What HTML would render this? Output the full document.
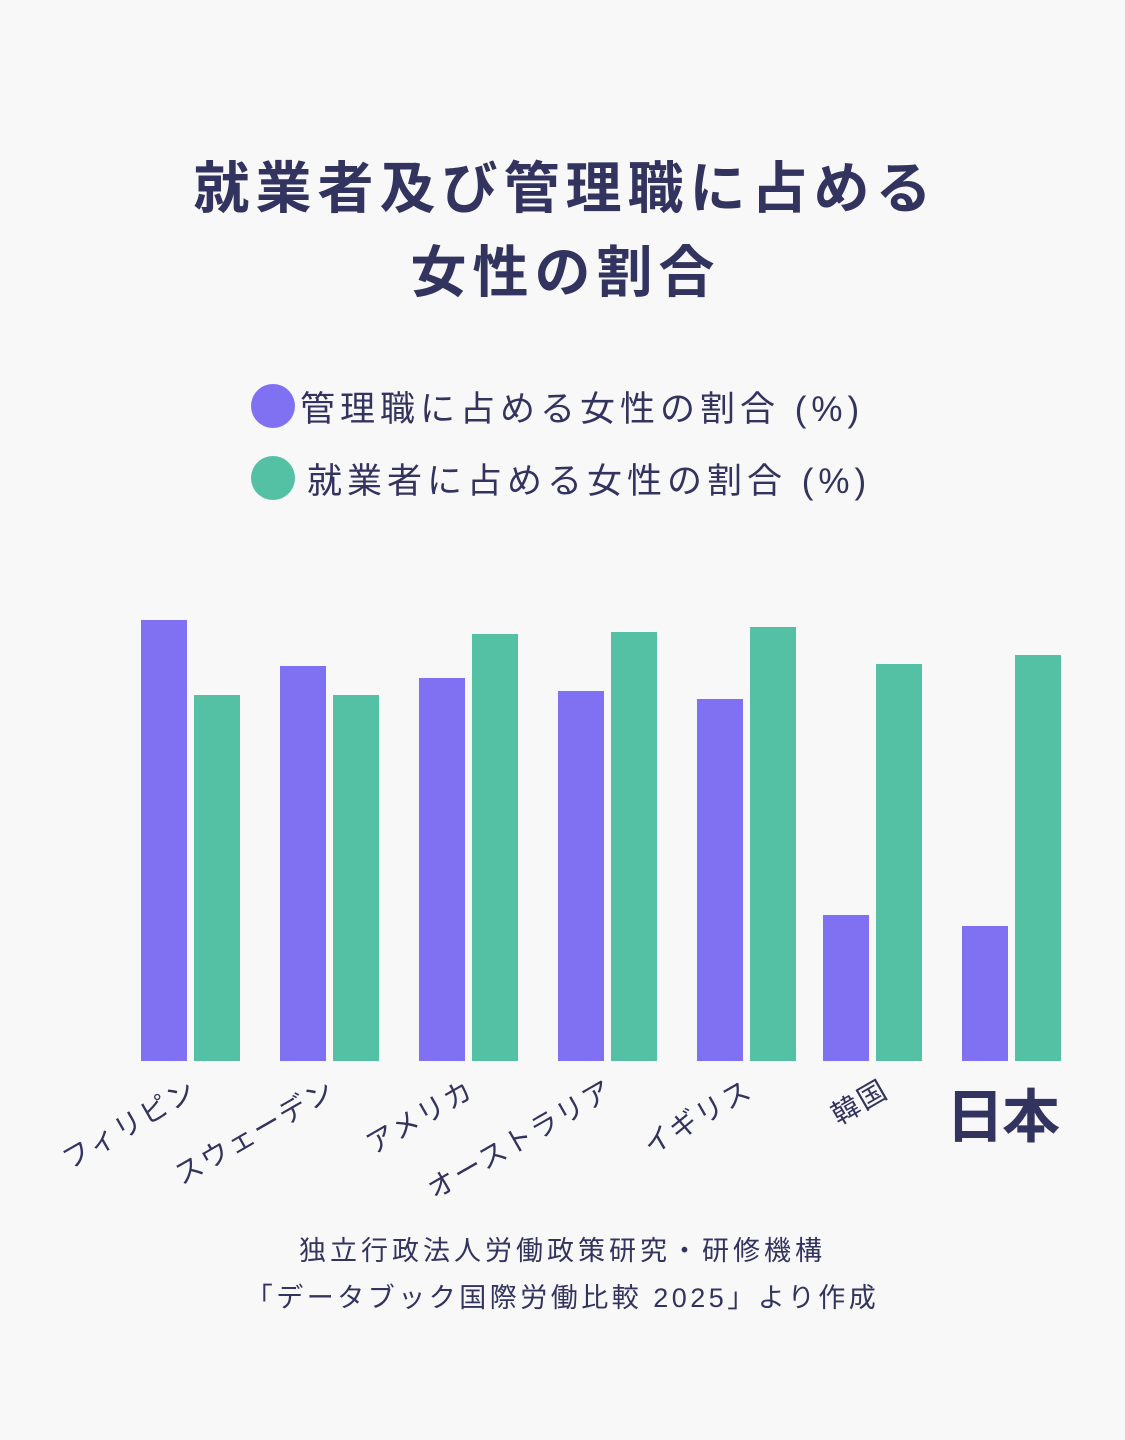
<!DOCTYPE html>
<html><head><meta charset="utf-8"><style>
body{margin:0;width:1125px;height:1440px;background:#f8f8f8;font-family:"Liberation Sans","Noto Sans CJK JP",sans-serif;color:#33335f;position:relative;overflow:hidden}
.t{position:absolute;left:0;width:1125px;text-align:center;font-weight:bold;font-size:56px;letter-spacing:6px;text-indent:6px}
.b{position:absolute;width:46px}
.p{background:#8071f2}.g{background:#54c1a4}
.lg{position:absolute;font-size:35px;letter-spacing:5px;white-space:nowrap}
.dot{position:absolute;width:44px;height:44px;border-radius:50%}
.lb{position:absolute;font-size:28px;letter-spacing:2px;white-space:nowrap;transform-origin:right center;transform:rotate(-30deg)}
.f{position:absolute;left:0;width:1125px;text-align:center;font-size:27px}
</style></head><body>
<div class="t" style="top:144px">就業者及び管理職に占める</div>
<div class="t" style="top:228px">女性の割合</div>
<div class="dot p" style="left:251px;top:384px"></div>
<div class="lg" style="left:300px;top:381px">管理職に占める女性の割合 (%)</div>
<div class="dot g" style="left:251px;top:456px"></div>
<div class="lg" style="left:307px;top:453px">就業者に占める女性の割合 (%)</div>

<div class="b p" style="left:141px;top:620px;height:441px"></div>
<div class="b g" style="left:194px;top:695px;height:366px"></div>
<div class="b p" style="left:280px;top:666px;height:395px"></div>
<div class="b g" style="left:333px;top:695px;height:366px"></div>
<div class="b p" style="left:419px;top:678px;height:383px"></div>
<div class="b g" style="left:472px;top:634px;height:427px"></div>
<div class="b p" style="left:558px;top:691px;height:370px"></div>
<div class="b g" style="left:611px;top:632px;height:429px"></div>
<div class="b p" style="left:697px;top:699px;height:362px"></div>
<div class="b g" style="left:750px;top:627px;height:434px"></div>
<div class="b p" style="left:823px;top:915px;height:146px"></div>
<div class="b g" style="left:876px;top:664px;height:397px"></div>
<div class="b p" style="left:962px;top:926px;height:135px"></div>
<div class="b g" style="left:1015px;top:655px;height:406px"></div>

<div class="lb" style="right:932px;top:1066px">フィリピン</div>
<div class="lb" style="right:793px;top:1066px">スウェーデン</div>
<div class="lb" style="right:654px;top:1066px">アメリカ</div>
<div class="lb" style="right:515px;top:1066px">オーストラリア</div>
<div class="lb" style="right:376px;top:1066px">イギリス</div>
<div class="lb" style="right:240px;top:1066px">韓国</div>
<div style="position:absolute;left:946px;top:1070px;font-size:58px;font-weight:bold;letter-spacing:-2px">日本</div>

<div class="f" style="top:1229px;letter-spacing:4px">独立行政法人労働政策研究・研修機構</div>
<div class="f" style="top:1276px;letter-spacing:3.5px">「データブック国際労働比較 2025」より作成</div>
</body></html>
